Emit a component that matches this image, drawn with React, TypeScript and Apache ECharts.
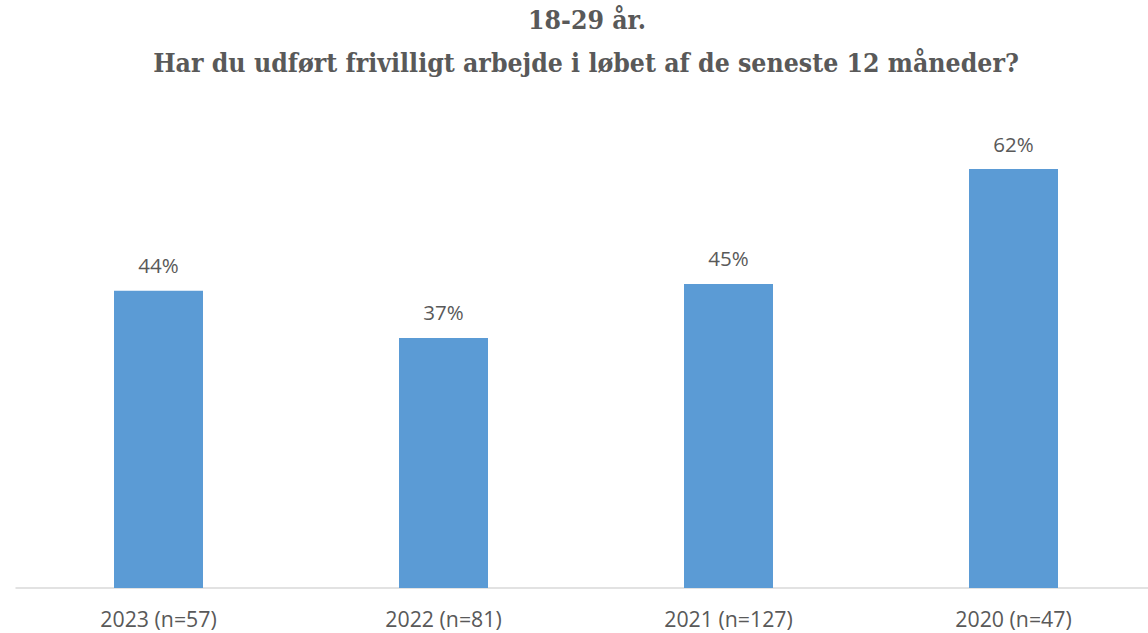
import React, { useEffect, useRef } from "react";
import * as echarts from "echarts";

const categories = ["2023 (n=57)", "2022 (n=81)", "2021 (n=127)", "2020 (n=47)"];
const values = [44, 37, 45, 62];
const titleLines = ["18-29 år.", "Har du udført frivilligt arbejde i løbet af de seneste 12 måneder?"];

export default function App() {
  const ref = useRef<HTMLDivElement>(null);
  useEffect(() => {
    const chart = echarts.init(ref.current!, null, { renderer: "svg" });
    const titleStyle = {
      fontFamily: "DejaVu Serif Condensed",
      fontWeight: "bold",
      fontSize: 26.4,
      fill: "#595959",
      textAlign: "center",
      textVerticalAlign: "middle",
    };
    chart.setOption({
      animation: false,
      graphic: [
        { type: "text", x: 587, y: 19, style: { ...titleStyle, text: titleLines[0] } },
        { type: "text", x: 586, y: 62, style: { ...titleStyle, text: titleLines[1] } },
      ],
      grid: { left: 16, top: 47.4, width: 1140, height: 540.6 },
      xAxis: {
        type: "category",
        data: categories,
        axisLine: { lineStyle: { color: "#d9d9d9", width: 1.5 } },
        axisTick: { show: false },
        axisLabel: { color: "#595959", fontSize: 21.3, fontFamily: "Open Sans", margin: 20 },
      },
      yAxis: { type: "value", min: 0, max: 80, show: false, splitLine: { show: false } },
      series: [
        {
          type: "bar",
          data: values,
          barWidth: 89,
          itemStyle: { color: "#5b9bd5" },
          label: {
            show: true,
            position: "top",
            distance: 15,
            formatter: "{c}%",
            color: "#595959",
            fontSize: 20.5,
            fontFamily: "Open Sans",
          },
        },
      ],
    });
    return () => chart.dispose();
  }, []);
  return (
    <div style={{ position: "absolute", left: 0, top: 0, width: 1148, height: 633, overflow: "hidden" }}>
      <div ref={ref} style={{ width: 1156, height: 633 }} />
    </div>
  );
}
